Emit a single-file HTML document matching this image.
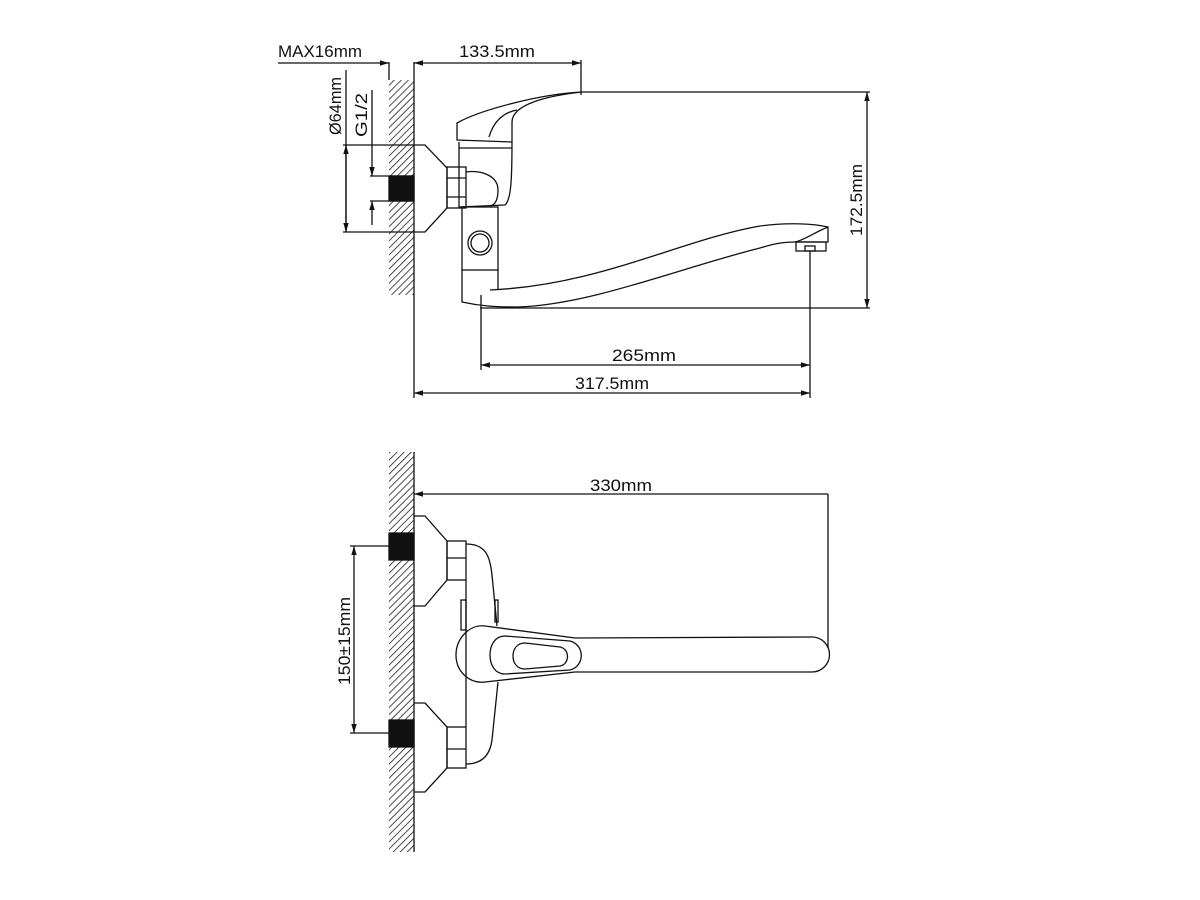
<!DOCTYPE html>
<html><head><meta charset="utf-8"><style>
html,body{margin:0;padding:0;background:#fff;width:1200px;height:900px;overflow:hidden}
text{font-family:"Liberation Sans",sans-serif;font-size:17px;fill:#111}
</style></head><body>
<svg width="1200" height="900" viewBox="0 0 1200 900" xmlns="http://www.w3.org/2000/svg">
<defs>
<pattern id="h" width="5" height="5" patternUnits="userSpaceOnUse" patternTransform="rotate(45)">
<line x1="0" y1="0" x2="0" y2="5" stroke="#111" stroke-width="1.5"/>
</pattern>
<marker id="a" viewBox="0 0 10 10" refX="10" refY="5" markerWidth="9" markerHeight="9" orient="auto-start-reverse" markerUnits="userSpaceOnUse">
<path d="M0,2 L10,5 L0,8 z" fill="#111"/></marker>
</defs>
<g fill="none" stroke="#111" stroke-width="1.3">
<!-- TOP VIEW -->
<rect x="389" y="80" width="25" height="215" fill="url(#h)" stroke="none"/>
<line x1="414" y1="62" x2="414" y2="398"/>
<line x1="389" y1="62" x2="389" y2="80"/>
<rect x="389" y="176" width="25" height="25" fill="#111"/>
<line x1="278" y1="63" x2="389" y2="63" marker-end="url(#a)"/>
<line x1="414" y1="63" x2="581" y2="63" marker-start="url(#a)" marker-end="url(#a)"/>
<line x1="581" y1="60" x2="581" y2="95"/>
<line x1="343" y1="145" x2="414" y2="145"/>
<line x1="343" y1="232" x2="414" y2="232"/>
<line x1="346" y1="70" x2="346" y2="232"/>
<line x1="346" y1="145" x2="346" y2="232" marker-start="url(#a)" marker-end="url(#a)"/>
<line x1="370" y1="176" x2="414" y2="176"/>
<line x1="370" y1="201" x2="414" y2="201"/>
<line x1="372" y1="90" x2="372" y2="176" marker-end="url(#a)"/>
<line x1="372" y1="225" x2="372" y2="201" marker-end="url(#a)"/>
<path d="M414,145 L425,145 L447,168 L447,208 L425,232 L414,232"/>
<rect x="447" y="167" width="19" height="41"/>
<line x1="447" y1="178" x2="466" y2="178"/><line x1="447" y1="197" x2="466" y2="197"/>
<path d="M582,92 C540,94 480,110 457,123 L457,140 L512,142 L512,122 C512,105 545,96 582,92 Z"/>
<path d="M489,137 C494,120 505,112 517,110"/>
<path d="M459,142 L459,207 L505,205 C511,200 512,180 512,142"/>
<path d="M466,172 C480,170 498,175 498,190 C498,200 495,205 490,206"/>
<line x1="459" y1="148" x2="512" y2="148"/>
<rect x="462" y="207" width="36" height="63"/>
<circle cx="480" cy="243" r="12"/><circle cx="480" cy="243" r="9"/>
<path d="M462,270 L462,302 C480,306 495,307 517,307"/>
<line x1="498" y1="270" x2="498" y2="290"/>
<path d="M490,290 C600,285 680,240 760,226 C790,222 815,224 828,227 L828,242 L795,242 C780,242 770,245 760,248 C680,268 590,305 517,307"/>
<path d="M828,227 C815,232 805,240 795,242"/>
<rect x="796" y="242" width="30" height="9"/>
<rect x="805" y="246" width="10" height="5"/>
<line x1="582" y1="92" x2="870" y2="92"/>
<line x1="480" y1="308" x2="870" y2="308"/>
<line x1="867" y1="92" x2="867" y2="308" marker-start="url(#a)" marker-end="url(#a)"/>
<line x1="481" y1="295" x2="481" y2="370"/>
<line x1="810" y1="251" x2="810" y2="398"/>
<line x1="481" y1="365" x2="810" y2="365" marker-start="url(#a)" marker-end="url(#a)"/>
<line x1="414" y1="393" x2="810" y2="393" marker-start="url(#a)" marker-end="url(#a)"/>

<!-- BOTTOM VIEW -->
<rect x="389" y="452" width="25" height="400" fill="url(#h)" stroke="none"/>
<line x1="414" y1="452" x2="414" y2="852"/>
<rect x="389" y="533" width="25" height="27" fill="#111"/>
<rect x="389" y="720" width="25" height="27" fill="#111"/>
<line x1="414" y1="494" x2="828" y2="494" marker-start="url(#a)"/>
<line x1="828" y1="494" x2="828" y2="648"/>
<line x1="350" y1="546" x2="389" y2="546"/>
<line x1="350" y1="733" x2="389" y2="733"/>
<line x1="354" y1="546" x2="354" y2="733" marker-start="url(#a)" marker-end="url(#a)"/>
<path d="M414,516 L425,516 L447,541 L447,580 L425,606 L414,606"/>
<path d="M414,703 L425,703 L447,727 L447,768 L425,792 L414,792"/>
<rect x="447" y="541" width="19" height="39"/><line x1="447" y1="558" x2="466" y2="558"/>
<rect x="447" y="727" width="19" height="41"/><line x1="447" y1="749" x2="466" y2="749"/>
<path d="M466,544 C485,544 490,555 492,575 L497,626"/>
<path d="M498,682 L492,740 C490,755 482,764 466,764"/>
<line x1="466" y1="580" x2="466" y2="727"/>
<rect x="461" y="600" width="5" height="30"/>
<rect x="495" y="600" width="3" height="22"/>
<path d="M485,626 L575,638 L812,637 A17.5,17.5 0 0 1 812,672 L575,672 L485,682 C470,684 456,672 456,655 C456,638 470,624 485,626 Z"/>
<path d="M505,636 L570,641 C585,645 585,666 570,670 L505,674 C495,674 490,665 490,655 C490,645 495,636 505,636 Z"/>
<path d="M525,643 L560,647 C570,649 570,664 560,666 L525,669 C517,669 513,663 513,656 C513,649 517,643 525,643 Z"/>
</g>
<g>
<text x="278" y="57" textLength="84" lengthAdjust="spacingAndGlyphs">MAX16mm</text>
<text x="459" y="57" textLength="76" lengthAdjust="spacingAndGlyphs">133.5mm</text>
<text transform="translate(341,135) rotate(-90)" textLength="58" lengthAdjust="spacingAndGlyphs">Ø64mm</text>
<text transform="translate(367,137) rotate(-90)" textLength="44" lengthAdjust="spacingAndGlyphs">G1/2</text>
<text transform="translate(862,236) rotate(-90)" textLength="72" lengthAdjust="spacingAndGlyphs">172.5mm</text>
<text x="612" y="361" textLength="64" lengthAdjust="spacingAndGlyphs">265mm</text>
<text x="575" y="389" textLength="74" lengthAdjust="spacingAndGlyphs">317.5mm</text>
<text x="590" y="491" textLength="62" lengthAdjust="spacingAndGlyphs">330mm</text>
<text transform="translate(350,685) rotate(-90)" textLength="88" lengthAdjust="spacingAndGlyphs">150±15mm</text>
</g>
</svg>
</body></html>
